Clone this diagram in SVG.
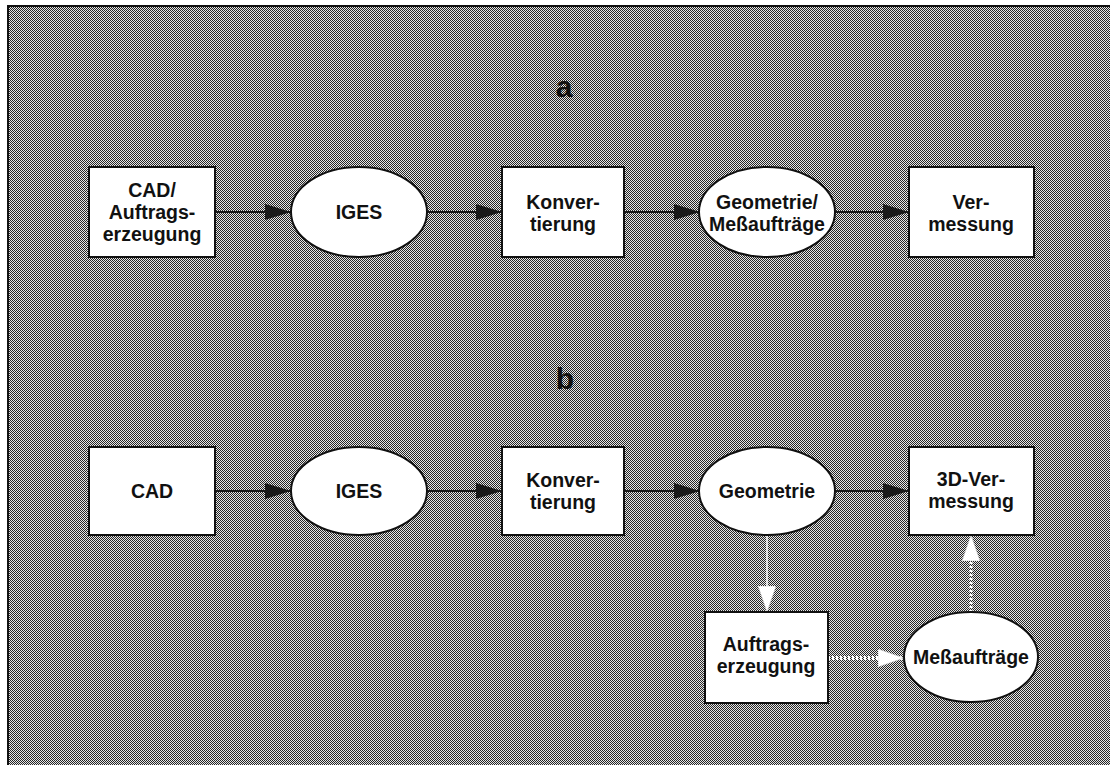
<svg xmlns="http://www.w3.org/2000/svg" width="1110" height="765" viewBox="0 0 1110 765">
  <defs>
    <!-- halftone-style grey: 1px checkerboard -->
    <pattern id="halftone" width="2" height="2" patternUnits="userSpaceOnUse">
      <rect width="2" height="2" fill="#e6e6e6"/>
      <rect x="0" y="0" width="1" height="1" fill="#262626"/>
      <rect x="1" y="1" width="1" height="1" fill="#262626"/>
    </pattern>
    <marker id="headDark" markerUnits="userSpaceOnUse" markerWidth="28" markerHeight="18" refX="26" refY="8" orient="auto">
      <path d="M0,0 L26,8 L0,16 z" fill="#1a1a1a"/>
    </marker>
    <marker id="headLight" markerUnits="userSpaceOnUse" markerWidth="28" markerHeight="20" refX="26" refY="9" orient="auto">
      <path d="M0,0 L26,9 L0,18 z" fill="#ffffff" stroke="#c4c4c4" stroke-width="0.6"/>
    </marker>
    <style>
      .box { fill: #ffffff; stroke: #111111; stroke-width: 2; }
      .lbl { font-family: "Liberation Sans", Arial, sans-serif; font-weight: bold; font-size: 19.5px; fill: #111111; text-anchor: middle; }
      .sec { font-family: "Liberation Sans", Arial, sans-serif; font-weight: bold; font-size: 30px; fill: #111111; text-anchor: middle; }
      .flow { stroke: #1a1a1a; stroke-width: 2; fill: none; marker-end: url(#headDark); }
      .side { stroke: #ffffff; fill: none; marker-end: url(#headLight); }
    </style>
  </defs>

  <!-- page and framed panel -->
  <rect width="1110" height="765" fill="#ffffff"/>
  <rect x="8" y="6" width="1110" height="770" fill="url(#halftone)" stroke="#111111" stroke-width="2" shape-rendering="crispEdges"/>

  <text class="sec" x="564" y="97">a</text>
  <text class="sec" x="565" y="389">b</text>

  <g id="connectors">
    <!-- panel a -->
    <line class="flow" x1="215" y1="212" x2="291" y2="212"/>
    <line class="flow" x1="427" y1="212" x2="502" y2="212"/>
    <line class="flow" x1="624" y1="212" x2="700" y2="212"/>
    <line class="flow" x1="835" y1="212" x2="909" y2="212"/>
    <!-- panel b -->
    <line class="flow" x1="215" y1="491" x2="291" y2="491"/>
    <line class="flow" x1="427" y1="491" x2="502" y2="491"/>
    <line class="flow" x1="624" y1="491" x2="700" y2="491"/>
    <line class="flow" x1="835" y1="491" x2="909" y2="491"/>
    <line class="side" x1="767" y1="535" x2="767" y2="612" stroke-width="1.5"/>
    <line class="side" x1="828" y1="658" x2="904" y2="658" stroke-width="4" stroke-dasharray="2 2"/>
    <line class="side" x1="971" y1="612" x2="971" y2="535" stroke-width="3" stroke-dasharray="2 2"/>
  </g>

  <!-- panel a nodes -->
  <g id="a-cad">
    <rect class="box" x="89" y="167" width="126" height="90"/>
    <text class="lbl" x="152" y="197">CAD/</text>
    <text class="lbl" x="152" y="219">Auftrags-</text>
    <text class="lbl" x="152" y="241">erzeugung</text>
  </g>
  <g id="a-iges">
    <ellipse class="box" cx="359" cy="212" rx="68" ry="45"/>
    <text class="lbl" x="359" y="219">IGES</text>
  </g>
  <g id="a-konvertierung">
    <rect class="box" x="502" y="167" width="122" height="90"/>
    <text class="lbl" x="563" y="209">Konver-</text>
    <text class="lbl" x="563" y="231">tierung</text>
  </g>
  <g id="a-geometrie">
    <ellipse class="box" cx="767" cy="212" rx="68" ry="45"/>
    <text class="lbl" x="767" y="209">Geometrie/</text>
    <text class="lbl" x="767" y="231">Meßaufträge</text>
  </g>
  <g id="a-vermessung">
    <rect class="box" x="909" y="167" width="125" height="90"/>
    <text class="lbl" x="971" y="209">Ver-</text>
    <text class="lbl" x="971" y="231">messung</text>
  </g>

  <!-- panel b nodes -->
  <g id="b-cad">
    <rect class="box" x="89" y="447" width="126" height="88"/>
    <text class="lbl" x="152" y="498">CAD</text>
  </g>
  <g id="b-iges">
    <ellipse class="box" cx="359" cy="491" rx="68" ry="44"/>
    <text class="lbl" x="359" y="498">IGES</text>
  </g>
  <g id="b-konvertierung">
    <rect class="box" x="502" y="447" width="122" height="88"/>
    <text class="lbl" x="563" y="487">Konver-</text>
    <text class="lbl" x="563" y="509">tierung</text>
  </g>
  <g id="b-geometrie">
    <ellipse class="box" cx="767" cy="491" rx="68" ry="44"/>
    <text class="lbl" x="767" y="498">Geometrie</text>
  </g>
  <g id="b-3d-vermessung">
    <rect class="box" x="909" y="447" width="125" height="88"/>
    <text class="lbl" x="971" y="486">3D-Ver-</text>
    <text class="lbl" x="971" y="508">messung</text>
  </g>
  <g id="b-auftragserzeugung">
    <rect class="box" x="705" y="612" width="123" height="91"/>
    <text class="lbl" x="766" y="651">Auftrags-</text>
    <text class="lbl" x="766" y="673">erzeugung</text>
  </g>
  <g id="b-messauftraege">
    <ellipse class="box" cx="971" cy="657" rx="67" ry="45"/>
    <text class="lbl" x="971" y="664">Meßaufträge</text>
  </g>
</svg>
